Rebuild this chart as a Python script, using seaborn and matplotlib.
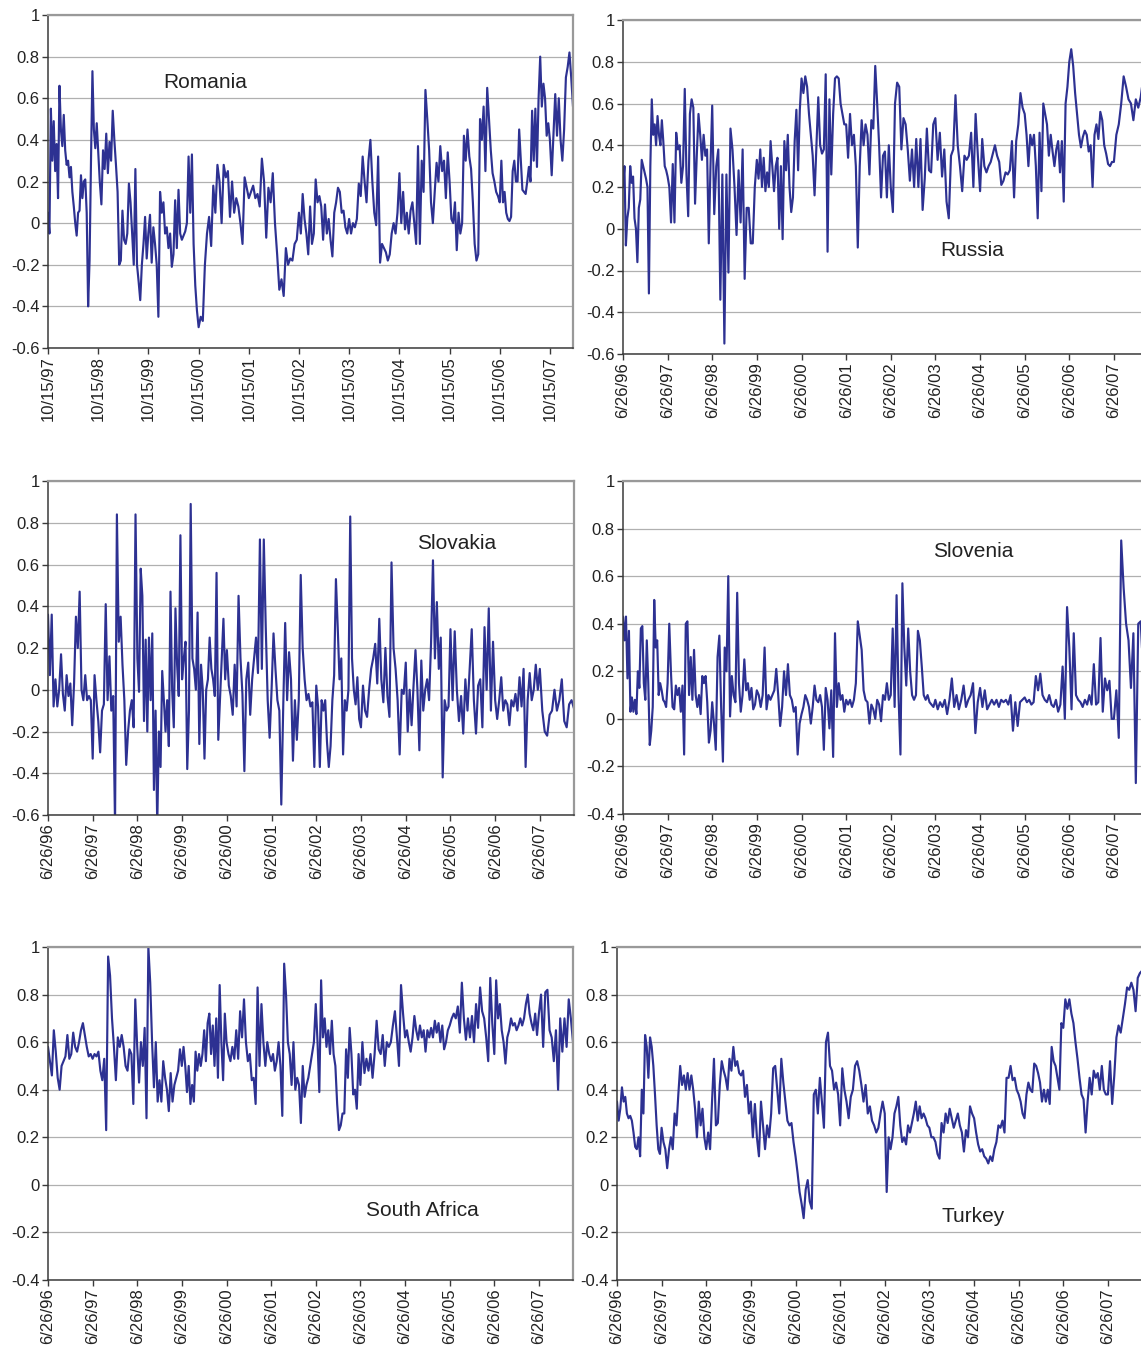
import numpy as np
import pandas as pd
import matplotlib
matplotlib.use("Agg")
import matplotlib.pyplot as plt
import seaborn as sns

# tick dates for each panel (one chunk of values per tick interval, last chunk runs to END_DATE)
END_DATE = "3/31/08"
romania_ticks = ["10/15/%02d" % (y % 100) for y in range(1997, 2008)]
sixtysix_ticks = ["6/26/%02d" % (y % 100) for y in range(1996, 2008)]

romania_vals = [
    [0.05, -0.05, 0.55, 0.3, 0.49, 0.25, 0.38, 0.12, 0.66, 0.45, 0.37, 0.52, 0.35, 0.28, 0.3, 0.22, 0.27, 0.15,
     0.08, 0.0, -0.06, 0.05, 0.06, 0.23, 0.12, 0.2, 0.21, 0.05, -0.4, -0.18, 0.3, 0.73, 0.45, 0.36, 0.48],
    [0.35, 0.2, 0.09, 0.35, 0.26, 0.43, 0.24, 0.39, 0.3, 0.54, 0.4, 0.28, 0.15, -0.2, -0.18, 0.06, -0.08, -0.1,
     -0.05, 0.19, 0.1, -0.05, -0.2, 0.26, -0.2, -0.28, -0.37, -0.2, -0.1, 0.03, -0.17],
    [-0.05, 0.04, -0.19, -0.02, -0.1, -0.2, -0.45, 0.15, 0.05, 0.1, -0.05, -0.02, -0.12, -0.05, -0.21, -0.15,
     0.11, -0.12, 0.16, -0.05, -0.08, -0.06, -0.04, 0.0, 0.32, 0.05, 0.33, -0.1, -0.3, -0.42],
    [-0.5, -0.45, -0.47, -0.2, -0.05, 0.03, -0.11, 0.18, 0.05, 0.28, 0.2, 0.0, 0.28, 0.22, 0.25, 0.03, 0.2, 0.05,
     0.12, 0.08, 0.0, -0.1, 0.22, 0.17],
    [0.12, 0.15, 0.18, 0.12, 0.14, 0.08, 0.31, 0.2, -0.07, 0.17, 0.1, 0.24, 0.0, -0.15, -0.32, -0.27, -0.35,
     -0.12, -0.2, -0.17, -0.18, -0.1, -0.08],
    [0.05, -0.05, 0.14, 0.02, -0.05, -0.15, 0.08, -0.1, -0.05, 0.21, 0.1, 0.13, 0.08, -0.08, 0.09, -0.05, 0.02,
     -0.08, -0.16, 0.05, 0.1, 0.17, 0.15, 0.05, 0.06, -0.02, -0.05],
    [0.02, -0.05, 0.0, -0.02, 0.02, 0.19, 0.13, 0.32, 0.2, 0.1, 0.3, 0.4, 0.2, 0.05, -0.01, 0.32, -0.19, -0.1,
     -0.12, -0.14, -0.18, -0.15, -0.05, 0.0, -0.05, 0.05],
    [0.24, 0.0, 0.15, -0.03, 0.05, -0.05, 0.06, 0.1, 0.0, -0.1, 0.37, -0.1, 0.3, 0.15, 0.64, 0.5, 0.35, 0.1,
     0.0, 0.15, 0.29, 0.2, 0.37, 0.25, 0.3, 0.12, 0.34],
    [0.2, 0.02, 0.0, 0.1, -0.13, 0.05, -0.05, 0.0, 0.42, 0.3, 0.45, 0.32, 0.26, 0.1, -0.1, -0.18, -0.15, 0.5,
     0.4, 0.56, 0.25, 0.65, 0.5, 0.35, 0.24, 0.2, 0.15, 0.13],
    [0.1, 0.3, 0.1, 0.15, 0.05, 0.02, 0.01, 0.03, 0.25, 0.3, 0.2, 0.2, 0.45, 0.3, 0.16, 0.15, 0.14, 0.2, 0.27,
     0.2, 0.54, 0.3, 0.55, 0.27, 0.6, 0.8, 0.56, 0.67, 0.6, 0.42, 0.48],
    [0.4, 0.23, 0.42, 0.62, 0.42, 0.6, 0.4, 0.3, 0.45, 0.7, 0.75, 0.82, 0.7, 0.56],
]

russia_vals = [
    [0.2, 0.3, -0.08, 0.05, 0.1, 0.3, 0.22, 0.25, 0.05, 0.0, -0.16, 0.1, 0.14, 0.33, 0.3, 0.27, 0.24, 0.2,
     -0.31, 0.3, 0.62, 0.45, 0.5, 0.4, 0.54, 0.45, 0.4, 0.52, 0.42, 0.3, 0.28],
    [0.25, 0.2, 0.03, 0.31, 0.03, 0.46, 0.38, 0.4, 0.22, 0.3, 0.67, 0.26, 0.06, 0.55, 0.62, 0.58, 0.12, 0.35,
     0.55, 0.45, 0.33, 0.45, 0.35, 0.38, -0.07, 0.3],
    [0.59, 0.07, 0.3, 0.38, -0.34, 0.26, -0.55, 0.26, -0.21, 0.48, 0.38, 0.2, -0.03, 0.28, 0.03, 0.38, -0.24,
     0.1, 0.1, -0.07, -0.07, 0.2],
    [0.33, 0.24, 0.38, 0.2, 0.34, 0.18, 0.27, 0.2, 0.42, 0.3, 0.18, 0.3, 0.34, 0.0, 0.3, -0.05, 0.42, 0.28,
     0.45, 0.2, 0.08, 0.15, 0.42, 0.57, 0.28, 0.57],
    [0.72, 0.65, 0.73, 0.68, 0.55, 0.45, 0.35, 0.16, 0.4, 0.63, 0.4, 0.36, 0.38, 0.74, -0.11, 0.62, 0.26, 0.55,
     0.72, 0.73, 0.72, 0.6, 0.55, 0.5],
    [0.5, 0.34, 0.55, 0.4, 0.45, 0.3, -0.09, 0.3, 0.52, 0.4, 0.5, 0.45, 0.26, 0.52, 0.48, 0.78, 0.6, 0.4, 0.15,
     0.35, 0.37, 0.15, 0.4],
    [0.2, 0.08, 0.6, 0.7, 0.68, 0.38, 0.53, 0.5, 0.38, 0.23, 0.38, 0.2, 0.43, 0.2, 0.43, 0.09, 0.24, 0.48, 0.28,
     0.27, 0.5],
    [0.53, 0.33, 0.46, 0.25, 0.38, 0.13, 0.05, 0.35, 0.38, 0.64, 0.4, 0.3, 0.18, 0.35, 0.33, 0.35, 0.46, 0.2,
     0.55, 0.35],
    [0.18, 0.43, 0.3, 0.27, 0.3, 0.32, 0.36, 0.4, 0.35, 0.32, 0.21, 0.23, 0.27, 0.26, 0.28, 0.42, 0.15, 0.42,
     0.5, 0.65, 0.58],
    [0.55, 0.45, 0.3, 0.45, 0.4, 0.45, 0.3, 0.05, 0.46, 0.18, 0.6, 0.55, 0.5, 0.35, 0.45, 0.37, 0.3, 0.38, 0.42,
     0.27, 0.42, 0.13, 0.6, 0.68],
    [0.8, 0.86, 0.78, 0.65, 0.55, 0.45, 0.39, 0.44, 0.47, 0.45, 0.37, 0.4, 0.2, 0.45, 0.5, 0.43, 0.56, 0.52,
     0.4, 0.36, 0.31, 0.3, 0.32],
    [0.32, 0.45, 0.5, 0.6, 0.73, 0.68, 0.62, 0.6, 0.52, 0.62, 0.58, 0.63, 0.72, 0.7, 0.68],
]

slovakia_vals = [
    [0.36, 0.07, 0.36, -0.08, 0.05, -0.08, 0.0, 0.17, -0.02, -0.1, 0.07, -0.03, 0.03, -0.17, 0.03, 0.35, 0.2,
     0.47, 0.0, -0.05, 0.07, -0.05, -0.03, -0.05],
    [-0.33, 0.07, -0.05, -0.15, -0.3, -0.1, -0.07, 0.41, -0.05, 0.16, -0.1, -0.03, -0.65, 0.84, 0.23, 0.35,
     0.12, -0.05, -0.36, -0.2, -0.1, -0.05, -0.18, 0.84],
    [0.15, -0.01, 0.58, 0.45, -0.15, 0.24, -0.2, 0.25, -0.05, 0.27, -0.48, -0.1, -0.65, -0.2, -0.37, 0.09,
     -0.05, -0.2, -0.05, -0.27, 0.47, 0.0, -0.18, 0.39, 0.12, -0.03, 0.74],
    [0.05, 0.15, 0.23, -0.38, -0.1, 0.89, 0.15, 0.1, 0.0, 0.37, -0.26, 0.12, 0.0, -0.33, 0.0, 0.05, 0.25, 0.1,
     0.05, -0.03, 0.56, -0.24, -0.05, 0.13, 0.34, 0.05],
    [0.19, 0.02, -0.03, -0.12, 0.12, -0.08, 0.45, 0.15, -0.02, -0.39, 0.05, 0.13, -0.12, 0.05, 0.15, 0.25,
     0.08, 0.72, 0.1, 0.72, 0.3, -0.05, -0.23],
    [0.0, 0.27, 0.1, -0.05, -0.1, -0.55, -0.08, 0.32, -0.05, 0.18, 0.05, -0.34, -0.05, -0.24, -0.05, 0.55, 0.2,
     0.05, -0.05, -0.02, -0.08, -0.06, -0.37],
    [0.02, -0.08, -0.37, -0.05, -0.1, -0.05, -0.25, -0.37, -0.27, -0.05, 0.07, 0.53, 0.3, 0.05, 0.15, -0.31,
     -0.05, -0.1, 0.0, 0.83, 0.15, 0.0, -0.07, 0.06, -0.14],
    [-0.18, 0.02, -0.1, -0.13, 0.0, 0.1, 0.15, 0.22, 0.03, 0.34, 0.05, -0.06, 0.2, -0.03, -0.13, 0.61, 0.2, 0.1,
     -0.05, -0.31, 0.0, -0.02],
    [0.13, -0.2, 0.0, -0.17, 0.02, 0.19, 0.0, -0.29, 0.14, -0.1, 0.0, 0.05, -0.05, 0.22, 0.62, 0.15, 0.42, 0.1,
     0.25, -0.42, -0.05, -0.1, -0.08],
    [0.29, -0.05, 0.28, 0.0, -0.15, -0.03, -0.21, 0.05, -0.1, 0.1, 0.29, -0.05, -0.21, 0.02, 0.05, -0.18, 0.3,
     0.0, 0.39, -0.1, 0.23],
    [-0.05, -0.14, -0.05, 0.06, -0.1, -0.05, -0.07, -0.17, -0.05, -0.08, -0.02, -0.1, 0.06, -0.08, 0.1, -0.37,
     -0.05, 0.08, -0.05, 0.0, 0.12, 0.0],
    [0.1, -0.1, -0.2, -0.22, -0.12, -0.1, 0.0, -0.1, -0.05, 0.05, -0.15, -0.18, -0.07, -0.05, -0.09],
]

slovenia_vals = [
    [0.43, 0.33, 0.43, 0.17, 0.37, 0.03, 0.09, 0.03, 0.08, 0.02, 0.2, 0.13, 0.38, 0.39, 0.15, 0.08, 0.33, 0.15,
     -0.11, -0.05, 0.05, 0.5, 0.3, 0.33, 0.1, 0.15, 0.12, 0.08, 0.07, 0.05],
    [0.15, 0.4, 0.2, 0.05, 0.04, 0.14, 0.1, 0.13, 0.03, 0.14, -0.15, 0.4, 0.41, 0.1, 0.26, 0.08, 0.29, 0.1,
     0.05, 0.1, 0.02, 0.18, 0.15, 0.18, 0.07, -0.1, -0.05],
    [0.07, -0.02, -0.13, 0.26, 0.35, 0.05, -0.18, 0.3, 0.2, 0.6, 0.01, 0.18, 0.1, 0.07, 0.53, 0.15, 0.03, 0.1,
     0.25, 0.12, 0.15, 0.08, 0.13, 0.04, 0.06],
    [0.12, 0.1, 0.05, 0.1, 0.3, 0.04, 0.1, 0.08, 0.1, 0.12, 0.21, 0.1, -0.03, 0.05, 0.2, 0.1, 0.23, 0.1, 0.08,
     0.03, 0.05, -0.15, -0.02],
    [0.02, 0.05, 0.1, 0.08, 0.05, -0.02, 0.05, 0.14, 0.08, 0.07, 0.1, 0.05, -0.13, 0.13, 0.08, -0.04, 0.12,
     -0.16, 0.36, 0.05, 0.15, 0.08, 0.1, 0.03],
    [0.08, 0.06, 0.08, 0.05, 0.08, 0.15, 0.41, 0.35, 0.29, 0.12, 0.08, 0.07, -0.02, 0.06, 0.04, 0.0, 0.08, 0.06,
     -0.01, 0.1, 0.08, 0.15, 0.08],
    [0.1, 0.38, 0.05, 0.52, 0.1, -0.15, 0.57, 0.3, 0.14, 0.38, 0.2, 0.1, 0.08, 0.1, 0.37, 0.33, 0.22, 0.1, 0.08,
     0.1, 0.07, 0.06, 0.05],
    [0.08, 0.04, 0.07, 0.05, 0.08, 0.02, 0.08, 0.17, 0.05, 0.1, 0.04, 0.08, 0.14, 0.05, 0.08, 0.1, 0.15, -0.06,
     0.07],
    [0.13, 0.05, 0.12, 0.04, 0.06, 0.08, 0.06, 0.08, 0.05, 0.08, 0.07, 0.08, 0.06, 0.1, -0.05, 0.07, -0.03, 0.07,
     0.08],
    [0.09, 0.07, 0.08, 0.06, 0.07, 0.18, 0.12, 0.19, 0.1, 0.08, 0.07, 0.1, 0.06, 0.05, 0.08, 0.03, 0.06, 0.22,
     0.0, 0.47],
    [0.3, 0.04, 0.36, 0.1, 0.08, 0.07, 0.05, 0.08, 0.06, 0.1, 0.06, 0.23, 0.06, 0.07, 0.34, 0.03, 0.17, 0.12,
     0.16, 0.0],
    [0.0, 0.12, -0.08, 0.75, 0.55, 0.4, 0.33, 0.13, 0.36, -0.27, 0.4, 0.41, 0.2, 0.12, 0.15],
]

south_africa_vals = [
    [0.58, 0.52, 0.46, 0.65, 0.56, 0.45, 0.4, 0.5, 0.52, 0.54, 0.63, 0.53, 0.55, 0.64, 0.58, 0.56, 0.6, 0.65,
     0.68, 0.63, 0.58, 0.54, 0.55],
    [0.53, 0.55, 0.54, 0.56, 0.48, 0.44, 0.53, 0.23, 0.96, 0.88, 0.7, 0.58, 0.44, 0.62, 0.58, 0.63, 0.58, 0.5,
     0.48, 0.57, 0.55, 0.34, 0.78],
    [0.58, 0.43, 0.6, 0.5, 0.66, 0.28, 1.0, 0.85, 0.6, 0.41, 0.6, 0.35, 0.44, 0.35, 0.52, 0.45, 0.4, 0.31, 0.47,
     0.35, 0.42, 0.45, 0.48, 0.57],
    [0.5, 0.58, 0.5, 0.39, 0.5, 0.34, 0.42, 0.35, 0.56, 0.48, 0.55, 0.5, 0.55, 0.65, 0.52, 0.68, 0.72, 0.55,
     0.67, 0.5, 0.7, 0.45, 0.84, 0.6, 0.44, 0.72],
    [0.6, 0.55, 0.52, 0.58, 0.53, 0.65, 0.53, 0.73, 0.62, 0.78, 0.6, 0.52, 0.55, 0.44, 0.45, 0.34, 0.83, 0.5,
     0.76, 0.6, 0.5, 0.6, 0.55],
    [0.52, 0.55, 0.48, 0.52, 0.6, 0.5, 0.29, 0.93, 0.8, 0.6, 0.55, 0.42, 0.6, 0.4, 0.45, 0.42, 0.26, 0.5, 0.37,
     0.42, 0.45, 0.5, 0.55, 0.6],
    [0.76, 0.6, 0.39, 0.86, 0.62, 0.7, 0.58, 0.65, 0.55, 0.69, 0.55, 0.5, 0.34, 0.23, 0.25, 0.3, 0.3, 0.57,
     0.45, 0.66, 0.55, 0.38, 0.4, 0.32, 0.55],
    [0.42, 0.6, 0.47, 0.53, 0.48, 0.55, 0.45, 0.55, 0.69, 0.57, 0.55, 0.63, 0.5, 0.6, 0.58, 0.6, 0.67, 0.73,
     0.62, 0.5, 0.84, 0.72],
    [0.62, 0.65, 0.6, 0.56, 0.62, 0.71, 0.65, 0.61, 0.67, 0.62, 0.65, 0.56, 0.65, 0.62, 0.66, 0.62, 0.69, 0.64,
     0.68, 0.6, 0.67, 0.57, 0.6, 0.65],
    [0.67, 0.7, 0.72, 0.7, 0.75, 0.64, 0.85, 0.7, 0.61, 0.7, 0.62, 0.71, 0.6, 0.76, 0.66, 0.83, 0.73, 0.7, 0.62,
     0.52, 0.87, 0.68],
    [0.55, 0.86, 0.7, 0.76, 0.65, 0.6, 0.51, 0.62, 0.65, 0.7, 0.67, 0.68, 0.65, 0.67, 0.7, 0.67, 0.7, 0.76, 0.8,
     0.72, 0.68, 0.65, 0.72, 0.63],
    [0.72, 0.8, 0.58, 0.81, 0.82, 0.65, 0.62, 0.52, 0.65, 0.4, 0.7, 0.56, 0.7, 0.58, 0.78, 0.7, 0.6],
]

turkey_vals = [
    [0.35, 0.27, 0.32, 0.41, 0.35, 0.37, 0.3, 0.28, 0.29, 0.27, 0.22, 0.16, 0.15, 0.2, 0.12, 0.4, 0.3, 0.63,
     0.58, 0.45, 0.62, 0.58, 0.5, 0.38, 0.25, 0.15, 0.13],
    [0.24, 0.18, 0.15, 0.07, 0.15, 0.2, 0.15, 0.3, 0.25, 0.38, 0.5, 0.42, 0.46, 0.4, 0.47, 0.4, 0.46, 0.4, 0.32,
     0.2, 0.35, 0.25, 0.32, 0.2],
    [0.15, 0.22, 0.15, 0.35, 0.53, 0.25, 0.26, 0.42, 0.52, 0.48, 0.45, 0.4, 0.53, 0.48, 0.58, 0.5, 0.52, 0.47,
     0.46, 0.48, 0.37, 0.42, 0.3],
    [0.35, 0.2, 0.34, 0.2, 0.12, 0.35, 0.25, 0.15, 0.25, 0.2, 0.3, 0.49, 0.5, 0.4, 0.3, 0.53, 0.43, 0.35, 0.27,
     0.25, 0.26, 0.18],
    [0.12, 0.05, -0.03, -0.08, -0.14, -0.02, 0.02, -0.07, -0.1, 0.38, 0.4, 0.3, 0.45, 0.35, 0.24, 0.6, 0.64,
     0.5, 0.48, 0.4, 0.43, 0.38],
    [0.25, 0.49, 0.4, 0.35, 0.28, 0.37, 0.4, 0.5, 0.52, 0.48, 0.42, 0.35, 0.42, 0.3, 0.33, 0.27, 0.25, 0.22,
     0.24, 0.3, 0.35],
    [0.3, -0.03, 0.2, 0.15, 0.2, 0.3, 0.33, 0.37, 0.25, 0.18, 0.2, 0.17, 0.25, 0.22, 0.26, 0.3, 0.35, 0.27,
     0.33, 0.28, 0.3, 0.28, 0.25],
    [0.24, 0.2, 0.2, 0.18, 0.13, 0.11, 0.26, 0.22, 0.3, 0.26, 0.32, 0.28, 0.24, 0.27, 0.3, 0.25, 0.22, 0.14,
     0.23, 0.2, 0.33, 0.3],
    [0.28, 0.22, 0.17, 0.14, 0.15, 0.12, 0.11, 0.09, 0.12, 0.1, 0.15, 0.18, 0.25, 0.24, 0.27, 0.22, 0.45, 0.45,
     0.5, 0.44, 0.45, 0.4],
    [0.38, 0.35, 0.3, 0.28, 0.38, 0.43, 0.4, 0.39, 0.51, 0.5, 0.47, 0.43, 0.35, 0.4, 0.35, 0.4, 0.34, 0.58,
     0.52, 0.5, 0.45, 0.4, 0.68],
    [0.66, 0.78, 0.74, 0.78, 0.72, 0.68, 0.6, 0.53, 0.45, 0.38, 0.36, 0.22, 0.35, 0.45, 0.38, 0.48, 0.45, 0.47,
     0.4, 0.5, 0.4, 0.38],
    [0.38, 0.52, 0.34, 0.46, 0.62, 0.67, 0.64, 0.7, 0.76, 0.83, 0.82, 0.85, 0.82, 0.73, 0.87, 0.89, 0.9],
]

LINE_COLOR = "#2d3192"
W, H = 1141, 1351


def build_series(ticks, chunks):
    edges = pd.to_datetime(ticks + [END_DATE], format="%m/%d/%y")
    dates, vals = [], []
    for i, chunk in enumerate(chunks):
        n = len(chunk) - 1 if i == len(chunks) - 1 else len(chunk)
        span = edges[i + 1] - edges[i]
        dates += [edges[i] + span * j / n for j in range(len(chunk))]
        vals += chunk
    return pd.DataFrame({"date": dates, "value": vals}), edges


sns.set_style("white")
plt.rcParams["font.family"] = ["Liberation Sans", "DejaVu Sans"]
plt.rcParams["axes.unicode_minus"] = False

fig = plt.figure(figsize=(W / 100, H / 100), dpi=100)

# name, ticks, values, ymin, (left, top, right, bottom) in px, label centre in px, right column?
panels = [
    ("Romania", romania_ticks, romania_vals, -0.6, (48, 15, 573, 348), (205, 83), False),
    ("Russia", sixtysix_ticks, russia_vals, -0.6, (623, 20, 1148, 354), (972, 251), True),
    ("Slovakia", sixtysix_ticks, slovakia_vals, -0.6, (48, 481, 574, 815), (457, 544), False),
    ("Slovenia", sixtysix_ticks, slovenia_vals, -0.4, (623, 481, 1148, 814), (973, 552), True),
    ("South Africa", sixtysix_ticks, south_africa_vals, -0.4, (48, 947, 573, 1280), (422, 1210), False),
    ("Turkey", sixtysix_ticks, turkey_vals, -0.4, (617, 947, 1142, 1280), (973, 1216), True),
]

for name, ticks, chunks, ymin, box, label_xy, right_col in panels:
    l, t, r, b = box
    ax = fig.add_axes([l / W, 1 - b / H, (r - l) / W, (b - t) / H])
    df, edges = build_series(ticks, chunks)
    sns.lineplot(data=df, x="date", y="value", ax=ax, color=LINE_COLOR, linewidth=1.55,
                 estimator=None, errorbar=None)

    ax.set_xlim(edges[0], edges[-1])
    ax.set_ylim(ymin, 1)
    yt = np.round(np.arange(ymin, 1.0001, 0.2), 1)
    ax.set_yticks(yt)
    ax.set_yticklabels(["%g" % v if v != 0 else "0" for v in yt], fontsize=12, color="#222222")
    ax.set_xticks(edges[:-1])
    ax.set_xticklabels(ticks, rotation=90, fontsize=12, color="#222222")
    ax.set_xlabel("")
    ax.set_ylabel("")

    ax.yaxis.grid(True, color="#b0b0b0", linewidth=0.9)
    ax.xaxis.grid(False)
    ax.set_axisbelow(True)
    ax.tick_params(axis="both", direction="out", length=4, width=1.0, color="#3a3a3a", pad=2,
                   left=True, bottom=True)

    for side in ("left", "bottom"):
        ax.spines[side].set_color("#3a3a3a")
        ax.spines[side].set_linewidth(1.1)
    ax.spines["top"].set_color("#999999")
    ax.spines["top"].set_linewidth(1.6)
    ax.spines["right"].set_color("#999999")
    ax.spines["right"].set_linewidth(1.6)
    ax.spines["right"].set_visible(not right_col)

    fig.text(label_xy[0] / W, 1 - label_xy[1] / H, name, ha="center", va="center",
             fontsize=15, color="#222222")

fig.savefig("out.png", dpi=100, facecolor="white")
